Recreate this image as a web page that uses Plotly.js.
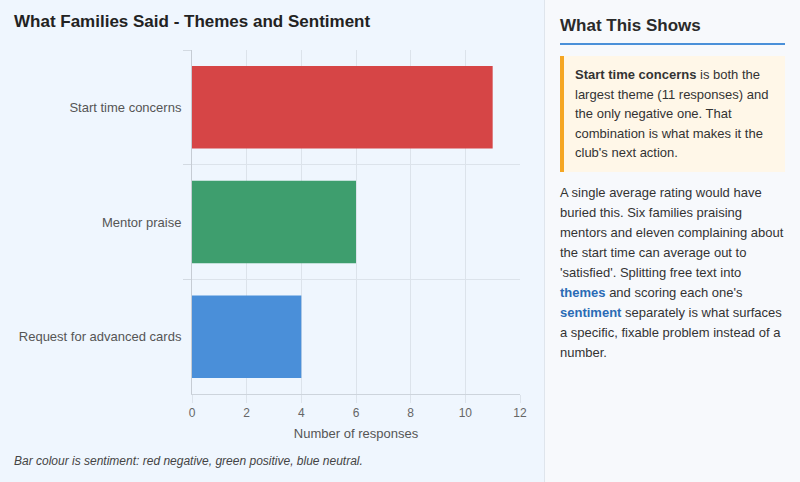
<!DOCTYPE html>
<html>
<head>
<meta charset="utf-8">
<script src="https://cdn.plot.ly/plotly-3.0.1.min.js"></script>
<style>
  html, body { margin: 0; padding: 0; }
  body {
    width: 800px; height: 482px; overflow: hidden;
    display: flex;
    font-family: "Liberation Sans", Arial, Helvetica, sans-serif;
    color: #333;
  }
  #left {
    width: 544px; height: 482px;
    background: #eff6fe;
    border-right: 1px solid #dfe5ec;
  }
  #chart { width: 544px; height: 482px; }
  #right {
    width: 225px; height: 482px;
    background: #f7f9fc;
    padding: 0 15px;
  }
  #right h2 {
    margin: 16px 0 0 0;
    font-size: 17px;
    font-weight: bold;
    color: #2a2a2a;
    padding-bottom: 7px;
    border-bottom: 2px solid #4a90d9;
  }
  .callout {
    margin-top: 11px;
    background: #fff7e8;
    border-left: 4px solid #f5a623;
    padding: 9px 11px 9px 11px;
    font-size: 13px;
    line-height: 19.5px;
    color: #333;
  }
  .callout b { color: #333; }
  p.note {
    margin: 11px 0 0 0;
    font-size: 13px;
    line-height: 20px;
    color: #333;
  }
  p.note b { color: #2a6bb5; }
</style>
</head>
<body>
<div id="left"><div id="chart"></div></div>
<div id="right">
  <h2>What This Shows</h2>
  <div class="callout"><b>Start time concerns</b> is both the largest theme (11 responses) and the only negative one. That combination is what makes it the club's next action.</div>
  <p class="note">A single average rating would have buried this. Six families praising mentors and eleven complaining about the start time can average out to 'satisfied'. Splitting free text into <b>themes</b> and scoring each one's <b>sentiment</b> separately is what surfaces a specific, fixable problem instead of a number.</p>
</div>
<script>
// theme data
var themes = ['Start time concerns', 'Mentor praise', 'Request for advanced cards'];
var counts = [11, 6, 4];
var sentiments = ['negative', 'positive', 'neutral'];

var sentimentColour = { negative: '#d64546', positive: '#3e9e6e', neutral: '#4a8fd9' };
var font = '"Liberation Sans", Arial, sans-serif';
var grid = '#dce3eb';

var trace = {
  type: 'bar',
  orientation: 'h',
  y: themes,
  x: counts,
  marker: { color: sentiments.map(function (s) { return sentimentColour[s]; }) },
  hoverinfo: 'skip'
};

var layout = {
  width: 544,
  height: 482,
  margin: { l: 192, r: 24, t: 50, b: 88 },
  paper_bgcolor: '#eff6fe',
  plot_bgcolor: '#eff6fe',
  font: { family: font, color: '#555' },
  bargap: 0.28,
  showlegend: false,
  title: {
    text: '<b>What Families Said - Themes and Sentiment</b>',
    font: { family: font, size: 17, color: '#222' },
    xref: 'container', x: 14 / 544, xanchor: 'left',
    yref: 'container', y: 1 - 21 / 482, yanchor: 'middle'
  },
  xaxis: {
    range: [0, 12],
    dtick: 2,
    showgrid: true, gridcolor: grid,
    zeroline: false,
    showline: true, linecolor: '#cdd4dc',
    ticks: 'outside', ticklen: 8, tickcolor: grid,
    tickfont: { size: 12, color: '#666' },
    title: { text: 'Number of responses', font: { size: 13, color: '#555' }, standoff: 9 },
    fixedrange: true
  },
  yaxis: {
    type: 'category',
    autorange: 'reversed',
    tickson: 'boundaries',
    showgrid: true, gridcolor: grid,
    showline: true, linecolor: '#c6ccd4',
    ticks: 'outside', ticklen: 8, tickcolor: '#d3dae2', tickwidth: 1,
    ticklabelstandoff: 7,
    tickfont: { size: 13, color: '#555' },
    fixedrange: true
  },
  annotations: [{
    text: '<i>Bar colour is sentiment: red negative, green positive, blue neutral.</i>',
    xref: 'paper', yref: 'paper',
    x: (12 - 192) / 328, xanchor: 'left',
    y: (394 - 461) / 344, yanchor: 'middle',
    showarrow: false,
    font: { family: font, size: 12, color: '#444' }
  }]
};

Plotly.newPlot('chart', [trace], layout, { displayModeBar: false, staticPlot: true });
</script>
</body>
</html>
